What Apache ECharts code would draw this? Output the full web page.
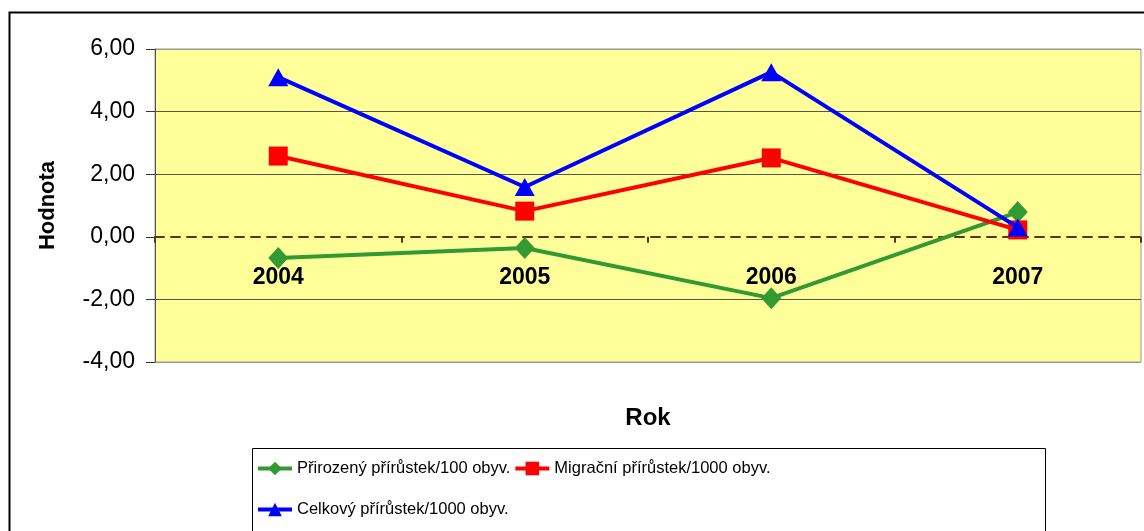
<!DOCTYPE html>
<html>
<head>
<meta charset="utf-8">
<script src="https://cdn.jsdelivr.net/npm/echarts@6/dist/echarts.min.js"></script>
<style>
  html, body { margin: 0; padding: 0; background: #fff; }
  #chart { width: 1144px; height: 531px; }
</style>
</head>
<body>
<div id="chart"></div>
<script>
const years = ['2004', '2005', '2006', '2007']
const prirozeny = [-0.68, -0.36, -1.96, 0.79]
const migracni = [2.58, 0.82, 2.52, 0.22]
const celkovy = [5.10, 1.59, 5.26, 0.30]
const yMin = -4
const yMax = 6
const yStep = 2

const names = ['Přirozený přírůstek/100 obyv.', 'Migrační přírůstek/1000 obyv.', 'Celkový přírůstek/1000 obyv.']
const font = 'Arial, "Liberation Sans", sans-serif'

const chart = echarts.init(document.getElementById('chart'))
const option = {
  animation: false,
  backgroundColor: '#fff',
  graphic: [
    {
      type: 'rect',
      shape: { x: 9.5, y: 12.5, width: 1200, height: 600 },
      style: { fill: 'none', stroke: '#000', lineWidth: 2 },
      silent: true,
      z: -10
    },
    {
      type: 'rect',
      shape: { x: 252.5, y: 448.5, width: 793, height: 200 },
      style: { fill: '#fff', stroke: '#000', lineWidth: 1 },
      silent: true,
      z: -5
    }
  ],
  grid: {
    left: 155,
    top: 49,
    width: 986,
    height: 313,
    outerBoundsMode: 'none',
    show: true,
    backgroundColor: '#FFFF99',
    borderColor: '#999',
    borderWidth: 1
  },
  legend: [
    {
      left: 251,
      top: 455,
      itemWidth: 34,
      itemHeight: 17,
      itemGap: 3,
      lineStyle: { width: 4 },
      textStyle: { fontFamily: font, fontSize: 16.5, color: '#000' },
      data: [names[0], names[1]]
    },
    {
      left: 251,
      top: 496,
      itemWidth: 34,
      itemHeight: 17,
      lineStyle: { width: 4 },
      textStyle: { fontFamily: font, fontSize: 16.5, color: '#000' },
      data: [names[2]]
    }
  ],
  xAxis: {
    type: 'category',
    data: years,
    name: 'Rok',
    nameLocation: 'middle',
    nameGap: 44,
    nameTextStyle: { fontFamily: font, fontSize: 24, fontWeight: 'bold', color: '#000' },
    axisLine: {
      show: true,
      onZero: true,
      lineStyle: { color: '#663300', width: 2, type: [9, 7] }
    },
    axisTick: {
      show: true,
      interval: 0,
      length: 6,
      lineStyle: { color: '#663300', width: 2 }
    },
    axisLabel: {
      margin: -96,
      fontFamily: font,
      fontSize: 23,
      fontWeight: 'bold',
      color: '#000'
    },
    splitLine: { show: false }
  },
  yAxis: {
    type: 'value',
    min: yMin,
    max: yMax,
    interval: yStep,
    name: 'Hodnota',
    nameLocation: 'middle',
    nameGap: 96,
    nameTextStyle: { fontFamily: font, fontSize: 22, fontWeight: 'bold', color: '#000' },
    axisLine: { show: true, lineStyle: { color: '#555', width: 1 } },
    axisTick: { show: true, length: 9, lineStyle: { color: '#333' } },
    axisLabel: {
      margin: 20,
      fontFamily: font,
      fontSize: 23,
      color: '#000',
      formatter: v => v.toFixed(2).replace('.', ',')
    },
    splitLine: {
      show: true,
      lineStyle: {
        color: ['#999', '#555', 'rgba(0,0,0,0)', '#555', '#555', '#999'],
        width: 1
      }
    }
  },
  series: [
    {
      name: names[0],
      type: 'line',
      data: prirozeny,
      symbol: 'diamond',
      symbolSize: [20, 22],
      lineStyle: { color: '#339933', width: 4 },
      itemStyle: { color: '#339933' },
      z: 3
    },
    {
      name: names[1],
      type: 'line',
      data: migracni,
      symbol: 'rect',
      symbolSize: 19,
      lineStyle: { color: '#FF0000', width: 4 },
      itemStyle: { color: '#FF0000' },
      z: 4
    },
    {
      name: names[2],
      type: 'line',
      data: celkovy,
      symbol: 'triangle',
      symbolSize: [20, 18],
      lineStyle: { color: '#0000FF', width: 4 },
      itemStyle: { color: '#0000FF' },
      z: 5
    }
  ]
}
chart.setOption(option)
</script>
</body>
</html>
